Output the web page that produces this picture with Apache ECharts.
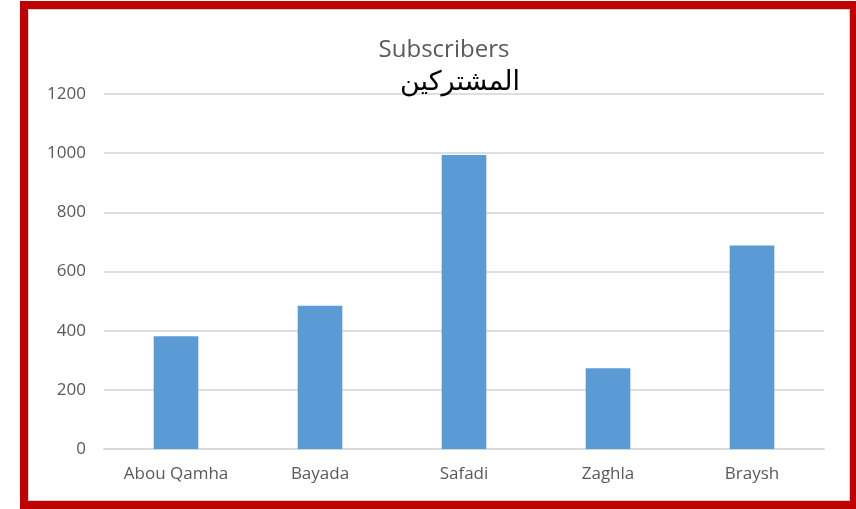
<!DOCTYPE html>
<html lang="en">
<head>
    <meta charset="UTF-8">
    <title>Subscribers</title>
    <script src="https://cdn.jsdelivr.net/npm/echarts@6/dist/echarts.min.js"></script>
    <style>
        body { margin: 0; background: #fff; overflow: hidden; }
        .frame {
            position: absolute;
            left: 20px; top: 1px;
            width: 822px; height: 492px;
            border: 8px solid #C00000;
        }
        .inner {
            position: absolute;
            left: 0; top: 0; right: 0; bottom: 0;
            border: 1px solid #d0d0d0;
        }
        #main {
            position: absolute;
            left: 0; top: 0;
            width: 856px; height: 509px;
        }
    </style>
</head>
<body>
    <div class="frame"><div class="inner"></div></div>
    <div id="main"></div>
<script>
    var categories = ['Abou Qamha', 'Bayada', 'Safadi', 'Zaghla', 'Braysh'];
    var subscribers = [381, 484, 994, 273, 688];

    var myChart = echarts.init(document.getElementById('main'));
    myChart.setOption({
        backgroundColor: 'transparent',
        title: [
            {
                text: 'Subscribers',
                left: 439, top: 33, textAlign: 'center',
                textStyle: { color: '#595959', fontSize: 24, fontWeight: 'normal', fontFamily: 'Open Sans' }
            },
            {
                text: 'المشتركين',
                left: 455, top: 64, textAlign: 'center',
                textStyle: { color: '#000', fontSize: 27, fontWeight: 'normal', fontFamily: 'DejaVu Sans' }
            }
        ],
        grid: { left: 104, right: 32, top: 94, bottom: 60 },
        xAxis: {
            type: 'category',
            data: categories,
            axisTick: { show: false },
            axisLine: { lineStyle: { color: '#d9d9d9', width: 2 } },
            axisLabel: { color: '#595959', fontSize: 17, fontFamily: 'Open Sans', margin: 17 }
        },
        yAxis: {
            type: 'value',
            min: 0, max: 1200, interval: 200,
            axisLine: { show: false },
            axisTick: { show: false },
            splitLine: { lineStyle: { color: '#dedede', width: 2 } },
            axisLabel: {
                color: '#595959', fontSize: 17, fontFamily: 'Open Sans', margin: 18,
                formatter: function (v) { return String(v); }
            }
        },
        series: [{
            type: 'bar',
            data: subscribers,
            barWidth: '31%',
            itemStyle: { color: '#5B9BD5' }
        }]
    });
</script>
</body>
</html>
